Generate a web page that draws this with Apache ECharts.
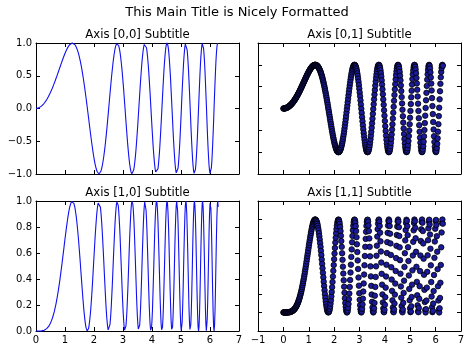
<!DOCTYPE html>
<html>
<head>
<meta charset="utf-8">
<script src="https://cdn.jsdelivr.net/npm/echarts@6/dist/echarts.min.js"></script>
<style>html,body{margin:0;padding:0;background:#fff}#c{width:474px;height:355px}</style>
</head>
<body>
<div id="c"></div>
<script>
const MAIN_TITLE = 'This Main Title is Nicely Formatted';
const SUBTITLES = ['Axis [0,0] Subtitle', 'Axis [0,1] Subtitle', 'Axis [1,0] Subtitle', 'Axis [1,1] Subtitle'];

const X = [
0,0.016,0.031,0.047,0.063,0.079,0.094,0.110,0.126,0.142,
0.157,0.173,0.189,0.205,0.220,0.236,0.252,0.268,0.283,0.299,
0.315,0.331,0.346,0.362,0.378,0.394,0.409,0.425,0.441,0.457,
0.472,0.488,0.504,0.520,0.535,0.551,0.567,0.583,0.598,0.614,
0.630,0.646,0.661,0.677,0.693,0.709,0.724,0.740,0.756,0.772,
0.787,0.803,0.819,0.835,0.850,0.866,0.882,0.898,0.913,0.929,
0.945,0.961,0.976,0.992,1.008,1.024,1.039,1.055,1.071,1.087,
1.102,1.118,1.134,1.150,1.165,1.181,1.197,1.213,1.228,1.244,
1.260,1.276,1.291,1.307,1.323,1.339,1.354,1.370,1.386,1.402,
1.417,1.433,1.449,1.465,1.480,1.496,1.512,1.528,1.543,1.559,
1.575,1.590,1.606,1.622,1.638,1.653,1.669,1.685,1.701,1.716,
1.732,1.748,1.764,1.779,1.795,1.811,1.827,1.842,1.858,1.874,
1.890,1.905,1.921,1.937,1.953,1.968,1.984,2.000,2.016,2.031,
2.047,2.063,2.079,2.094,2.110,2.126,2.142,2.157,2.173,2.189,
2.205,2.220,2.236,2.252,2.268,2.283,2.299,2.315,2.331,2.346,
2.362,2.378,2.394,2.409,2.425,2.441,2.457,2.472,2.488,2.504,
2.520,2.535,2.551,2.567,2.583,2.598,2.614,2.630,2.646,2.661,
2.677,2.693,2.709,2.724,2.740,2.756,2.772,2.787,2.803,2.819,
2.835,2.850,2.866,2.882,2.898,2.913,2.929,2.945,2.961,2.976,
2.992,3.008,3.024,3.039,3.055,3.071,3.086,3.102,3.118,3.134,
3.149,3.165,3.181,3.197,3.212,3.228,3.244,3.260,3.275,3.291,
3.307,3.323,3.338,3.354,3.370,3.386,3.401,3.417,3.433,3.449,
3.464,3.480,3.496,3.512,3.527,3.543,3.559,3.575,3.590,3.606,
3.622,3.638,3.653,3.669,3.685,3.701,3.716,3.732,3.748,3.764,
3.779,3.795,3.811,3.827,3.842,3.858,3.874,3.890,3.905,3.921,
3.937,3.953,3.968,3.984,4.000,4.016,4.031,4.047,4.063,4.079,
4.094,4.110,4.126,4.142,4.157,4.173,4.189,4.205,4.220,4.236,
4.252,4.268,4.283,4.299,4.315,4.331,4.346,4.362,4.378,4.394,
4.409,4.425,4.441,4.457,4.472,4.488,4.504,4.520,4.535,4.551,
4.567,4.583,4.598,4.614,4.630,4.646,4.661,4.677,4.693,4.709,
4.724,4.740,4.756,4.772,4.787,4.803,4.819,4.835,4.850,4.866,
4.882,4.898,4.913,4.929,4.945,4.961,4.976,4.992,5.008,5.023,
5.039,5.055,5.071,5.086,5.102,5.118,5.134,5.149,5.165,5.181,
5.197,5.212,5.228,5.244,5.260,5.275,5.291,5.307,5.323,5.338,
5.354,5.370,5.386,5.401,5.417,5.433,5.449,5.464,5.480,5.496,
5.512,5.527,5.543,5.559,5.575,5.590,5.606,5.622,5.638,5.653,
5.669,5.685,5.701,5.716,5.732,5.748,5.764,5.779,5.795,5.811,
5.827,5.842,5.858,5.874,5.890,5.905,5.921,5.937,5.953,5.968,
5.984,6.000,6.015,6.031,6.047,6.063,6.078,6.094,6.110,6.126,
6.141,6.157,6.173,6.189,6.204,6.220,6.236,6.252,6.267,6.283
];

const Y_SIN = [
0,0.000,0.001,0.002,0.004,0.006,0.009,0.012,0.016,0.020,
0.025,0.030,0.036,0.042,0.049,0.056,0.063,0.072,0.080,0.089,
0.099,0.109,0.120,0.131,0.142,0.154,0.167,0.180,0.193,0.207,
0.221,0.236,0.251,0.267,0.283,0.299,0.316,0.333,0.350,0.368,
0.386,0.405,0.424,0.443,0.462,0.481,0.501,0.521,0.541,0.561,
0.581,0.601,0.621,0.642,0.662,0.682,0.702,0.721,0.741,0.760,
0.779,0.797,0.815,0.833,0.850,0.866,0.882,0.897,0.911,0.925,
0.937,0.949,0.960,0.969,0.977,0.985,0.990,0.995,0.998,1.000,
1.000,0.998,0.995,0.991,0.984,0.976,0.966,0.953,0.940,0.924,
0.906,0.886,0.864,0.840,0.814,0.786,0.755,0.723,0.689,0.653,
0.615,0.575,0.533,0.489,0.443,0.396,0.348,0.298,0.247,0.194,
0.141,0.086,0.031,-0.025,-0.081,-0.137,-0.194,-0.250,-0.306,-0.362,
-0.416,-0.470,-0.522,-0.573,-0.622,-0.669,-0.714,-0.757,-0.796,-0.833,
-0.867,-0.897,-0.924,-0.947,-0.966,-0.981,-0.992,-0.998,-1.000,-0.997,
-0.989,-0.976,-0.959,-0.936,-0.909,-0.877,-0.840,-0.798,-0.752,-0.702,
-0.647,-0.588,-0.526,-0.460,-0.391,-0.320,-0.246,-0.170,-0.093,-0.014,
0.065,0.144,0.223,0.301,0.377,0.451,0.523,0.591,0.656,0.717,
0.773,0.824,0.869,0.908,0.941,0.966,0.985,0.996,1.000,0.996,
0.984,0.964,0.936,0.900,0.857,0.806,0.748,0.684,0.613,0.537,
0.455,0.369,0.280,0.187,0.092,-0.005,-0.101,-0.198,-0.293,-0.385,
-0.474,-0.559,-0.639,-0.713,-0.780,-0.840,-0.890,-0.932,-0.965,-0.987,
-0.998,-0.999,-0.989,-0.968,-0.936,-0.893,-0.840,-0.777,-0.704,-0.623,
-0.535,-0.439,-0.338,-0.232,-0.123,-0.012,0.099,0.210,0.319,0.424,
0.524,0.618,0.704,0.781,0.848,0.904,0.947,0.978,0.996,1.000,
0.989,0.965,0.927,0.875,0.810,0.733,0.645,0.547,0.441,0.327,
0.208,0.085,-0.040,-0.164,-0.287,-0.405,-0.517,-0.622,-0.716,-0.800,
-0.870,-0.926,-0.967,-0.992,-1.000,-0.991,-0.965,-0.921,-0.862,-0.787,
-0.698,-0.595,-0.482,-0.360,-0.230,-0.096,0.040,0.177,0.310,0.438,
0.558,0.668,0.765,0.847,0.913,0.962,0.991,1.000,0.989,0.958,
0.907,0.837,0.750,0.646,0.529,0.399,0.261,0.117,-0.030,-0.177,
-0.321,-0.458,-0.585,-0.700,-0.799,-0.881,-0.942,-0.982,-0.999,-0.993,
-0.964,-0.912,-0.838,-0.744,-0.631,-0.503,-0.362,-0.212,-0.056,0.102,
0.257,0.407,0.547,0.673,0.783,0.872,0.940,0.982,1.000,0.991,
0.955,0.894,0.808,0.701,0.574,0.430,0.275,0.111,-0.056,-0.222,
-0.382,-0.532,-0.667,-0.783,-0.877,-0.946,-0.988,-1.000,-0.983,-0.936,
-0.862,-0.761,-0.637,-0.493,-0.334,-0.164,0.012,0.188,0.358,0.517,
0.661,0.784,0.882,0.952,0.991,0.999,0.973,0.916,0.828,0.712,
0.572,0.413,0.239,0.056,-0.128,-0.309,-0.480,-0.635,-0.767,-0.874,
-0.949,-0.991,-0.998,-0.970,-0.906,-0.809,-0.683,-0.531,-0.359,-0.174,
0.018,0.210,0.395,0.565,0.715,0.837,0.928,0.983,1.000,0.978
];

const Y_SQ = [
0,0,0,0,0,0,0,0,0,0,
0.001,0.001,0.001,0.002,0.002,0.003,0.004,0.005,0.006,0.008,
0.010,0.012,0.014,0.017,0.020,0.024,0.028,0.032,0.037,0.043,
0.049,0.056,0.063,0.071,0.080,0.089,0.100,0.111,0.123,0.135,
0.149,0.164,0.180,0.196,0.213,0.231,0.251,0.271,0.293,0.315,
0.338,0.361,0.386,0.412,0.438,0.465,0.493,0.520,0.549,0.578,
0.607,0.635,0.664,0.694,0.723,0.750,0.778,0.805,0.830,0.856,
0.878,0.901,0.922,0.939,0.955,0.970,0.980,0.990,0.996,1.000,
1.000,0.996,0.990,0.982,0.968,0.953,0.933,0.908,0.884,0.854,
0.821,0.785,0.746,0.706,0.663,0.618,0.570,0.523,0.475,0.426,
0.378,0.331,0.284,0.239,0.196,0.157,0.121,0.089,0.061,0.038,
0.020,0.007,0.001,0.001,0.007,0.019,0.038,0.063,0.094,0.131,
0.173,0.221,0.272,0.328,0.387,0.448,0.510,0.573,0.634,0.694,
0.752,0.805,0.854,0.897,0.933,0.962,0.984,0.996,1.000,0.994,
0.978,0.953,0.920,0.876,0.826,0.769,0.706,0.637,0.566,0.493,
0.419,0.346,0.277,0.212,0.153,0.102,0.061,0.029,0.009,0.000,
0.004,0.021,0.050,0.091,0.142,0.203,0.274,0.349,0.430,0.514,
0.598,0.679,0.755,0.824,0.885,0.933,0.970,0.992,1.000,0.992,
0.968,0.929,0.876,0.810,0.734,0.650,0.560,0.468,0.376,0.288,
0.207,0.136,0.078,0.035,0.008,0.000,0.010,0.039,0.086,0.148,
0.225,0.312,0.408,0.508,0.608,0.706,0.792,0.869,0.931,0.974,
0.996,0.998,0.978,0.937,0.876,0.797,0.706,0.604,0.496,0.388,
0.286,0.193,0.114,0.054,0.015,0.000,0.010,0.044,0.102,0.180,
0.275,0.382,0.496,0.610,0.719,0.817,0.897,0.956,0.992,1.000,
0.978,0.931,0.859,0.766,0.656,0.537,0.416,0.299,0.194,0.107,
0.043,0.007,0.002,0.027,0.082,0.164,0.267,0.387,0.513,0.640,
0.757,0.857,0.935,0.984,1.000,0.982,0.931,0.848,0.743,0.619,
0.487,0.354,0.232,0.130,0.053,0.009,0.002,0.031,0.096,0.192,
0.311,0.446,0.585,0.717,0.834,0.925,0.982,1.000,0.978,0.918,
0.823,0.701,0.563,0.417,0.280,0.159,0.068,0.014,0.001,0.031,
0.103,0.210,0.342,0.490,0.638,0.776,0.887,0.964,0.998,0.986,
0.929,0.832,0.702,0.554,0.398,0.253,0.131,0.045,0.003,0.010,
0.066,0.166,0.299,0.453,0.613,0.760,0.884,0.964,1.000,0.982,
0.912,0.799,0.653,0.491,0.329,0.185,0.076,0.012,0.003,0.049,
0.146,0.283,0.445,0.613,0.769,0.895,0.976,1.000,0.966,0.876,
0.743,0.579,0.406,0.243,0.112,0.027,0.000,0.035,0.128,0.267,
0.437,0.615,0.778,0.906,0.982,0.998,0.947,0.839,0.686,0.507,
0.327,0.171,0.057,0.003,0.016,0.095,0.230,0.403,0.588,0.764,
0.901,0.982,0.996,0.941,0.821,0.654,0.466,0.282,0.129,0.030,
0.000,0.044,0.156,0.319,0.511,0.701,0.861,0.966,1.000,0.956
];

const FONT = 'DejaVu Sans';
const fmtMinus = (s) => String(s).replace('-', '\u2212');
const fmt1 = (v) => fmtMinus(v.toFixed(1));
const fmt0 = (v) => fmtMinus(v.toFixed(0));

const GRIDS = [
  {left: 36, top: 43, width: 203, height: 131},
  {left: 258, top: 43, width: 203, height: 131},
  {left: 36, top: 201, width: 203, height: 130},
  {left: 258, top: 201, width: 203, height: 130}
];

function axisBase(gridIndex, position, min, max, interval, labelFmt) {
  return {
    type: 'value', gridIndex: gridIndex, position: position,
    min: min, max: max, interval: interval,
    axisLine: {show: true, onZero: false, lineStyle: {color: '#000', width: 1}},
    axisTick: {show: true, inside: true, length: 4, lineStyle: {color: '#000', width: 1}},
    splitLine: {show: false},
    axisLabel: labelFmt ? {show: true, color: '#000', fontFamily: FONT, fontSize: 10, margin: 4, formatter: labelFmt, showMinLabel: true, showMaxLabel: true} : {show: false}
  };
}

const xAxes = [
  axisBase(0, 'bottom', 0, 7, 1, null), axisBase(0, 'top', 0, 7, 1, null),
  axisBase(1, 'bottom', -1, 7, 1, null), axisBase(1, 'top', -1, 7, 1, null),
  axisBase(2, 'bottom', 0, 7, 1, fmt0), axisBase(2, 'top', 0, 7, 1, null),
  axisBase(3, 'bottom', -1, 7, 1, fmt0), axisBase(3, 'top', -1, 7, 1, null)
];
const yAxes = [
  axisBase(0, 'left', -1, 1, 0.5, fmt1), axisBase(0, 'right', -1, 1, 0.5, null),
  axisBase(1, 'left', -1.5, 1.5, 0.5, null), axisBase(1, 'right', -1.5, 1.5, 0.5, null),
  axisBase(2, 'left', 0, 1, 0.2, fmt1), axisBase(2, 'right', 0, 1, 0.2, null),
  axisBase(3, 'left', -0.2, 1.2, 0.2, null), axisBase(3, 'right', -0.2, 1.2, 0.2, null)
];

const sinPts = X.map((v, i) => [v, Y_SIN[i]]);
const sqPts = X.map((v, i) => [v, Y_SQ[i]]);

const lineStyle = {color: '#1010f0', width: 1.1};
const scatterStyle = {color: '#1a1a9a', borderColor: '#000', borderWidth: 0.8, opacity: 1};

const titleTexts = [
  {text: MAIN_TITLE, x: 237, y: 12.5, size: 13},
  {text: SUBTITLES[0], x: 137.5, y: 34.5, size: 11.7},
  {text: SUBTITLES[1], x: 359.5, y: 34.5, size: 11.7},
  {text: SUBTITLES[2], x: 137.5, y: 192.7, size: 11.7},
  {text: SUBTITLES[3], x: 359.5, y: 192.7, size: 11.7}
];

const chart = echarts.init(document.getElementById('c'), null, {renderer: 'canvas'});
chart.setOption({
  animation: false,
  backgroundColor: '#fff',
  grid: GRIDS,
  xAxis: xAxes,
  yAxis: yAxes,
  graphic: titleTexts.map(t => ({
    type: 'text', x: t.x, y: t.y, silent: true,
    style: {text: t.text, fill: '#000', fontFamily: FONT, fontSize: t.size, align: 'center', verticalAlign: 'middle', textAlign: 'center', textVerticalAlign: 'middle'}
  })),
  series: [
    {type: 'line', xAxisIndex: 0, yAxisIndex: 0, data: sinPts, showSymbol: false, symbol: 'none', lineStyle: lineStyle, itemStyle: {color: '#1010f0'}, smooth: false, clip: false},
    {type: 'scatter', xAxisIndex: 2, yAxisIndex: 2, data: sinPts, symbol: 'circle', symbolSize: 5.5, itemStyle: scatterStyle},
    {type: 'line', xAxisIndex: 4, yAxisIndex: 4, data: sqPts, showSymbol: false, symbol: 'none', lineStyle: lineStyle, itemStyle: {color: '#1010f0'}, smooth: false, clip: false},
    {type: 'scatter', xAxisIndex: 6, yAxisIndex: 6, data: sqPts, symbol: 'circle', symbolSize: 5.5, itemStyle: scatterStyle}
  ]
});
</script>
</body>
</html>
